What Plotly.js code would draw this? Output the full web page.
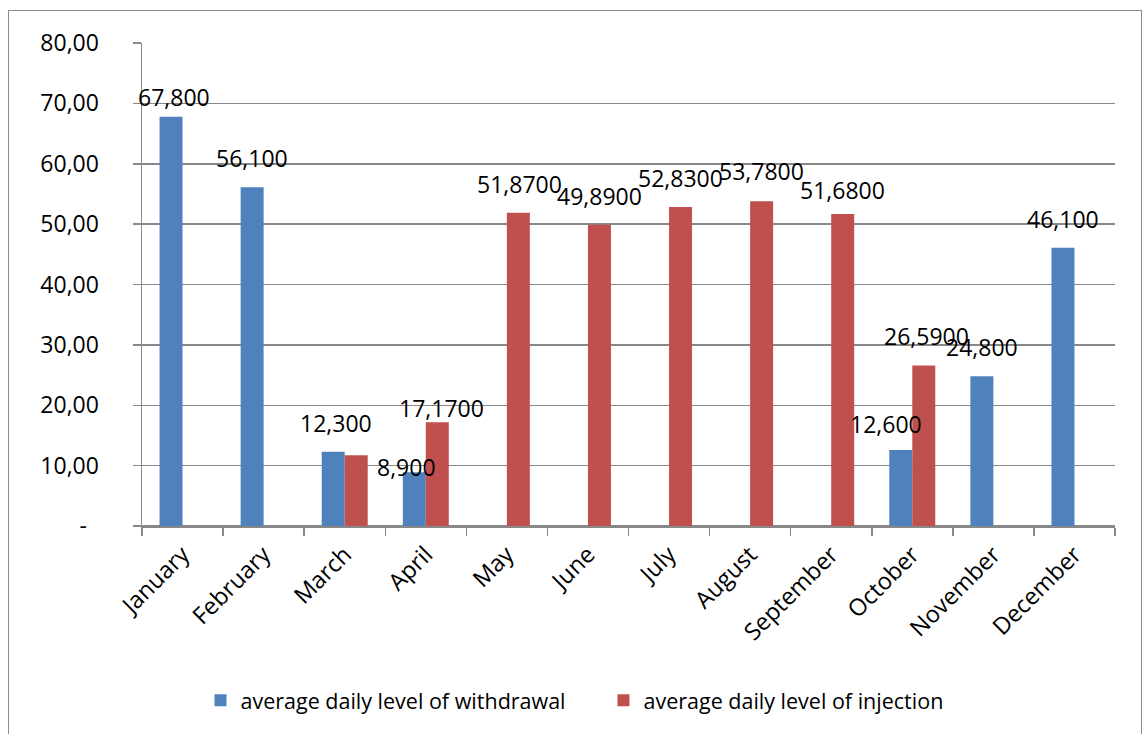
<!DOCTYPE html>
<html>
<head>
<meta charset="utf-8">
<script src="https://cdn.plot.ly/plotly-3.0.1.min.js"></script>
<style>
  html, body { margin: 0; padding: 0; background: #fff; overflow: hidden; }
  #wrap { position: relative; width: 1148px; height: 734px; }
  #frame { position: absolute; left: 8px; top: 10px; width: 1134px; height: 740px; border: 1.5px solid #8c8c8c; box-sizing: border-box; pointer-events: none; }
  #chart { position: absolute; left: 0; top: 0; width: 1148px; height: 734px; }
</style>
</head>
<body>
<div id="wrap">
  <div id="chart"></div>
  <div id="frame"></div>
</div>
<script>
const months = ["January", "February", "March", "April", "May", "June", "July", "August", "September", "October", "November", "December"];
const withdrawal = [67.8, 56.1, 12.3, 8.9, null, null, null, null, null, 12.6, 24.8, 46.1];
const injection = [null, null, 11.7, 17.17, 51.87, 49.89, 52.83, 53.78, 51.68, 26.59, null, null];
const withdrawalLabels = ["67,800", "56,100", "12,300", "8,900", "", "", "", "", "", "12,600", "24,800", "46,100"];
const injectionLabels = ["", "", "", "17,1700", "51,8700", "49,8900", "52,8300", "53,7800", "51,6800", "26,5900", "", ""];
const yTickVals = [0, 10, 20, 30, 40, 50, 60, 70, 80];
const yTickText = ["-\u00a0\u00a0", "10,00", "20,00", "30,00", "40,00", "50,00", "60,00", "70,00", "80,00"];

// label placement style (pixel nudges mimicking the original's label layout)
const withdrawalNudgeX = [3, 0, 3, -8, 0, 0, 0, 0, 0, -15, 0, 0];
const withdrawalNudgeY = [-9, 0, 0, -24, 0, 0, 0, 0, 0, -3, 0, 0];
const injectionNudgeX = [0, 0, 0, 4, 1, 0, 0, 0, 0, 3, 0, 0];
const injectionNudgeY = [0, 0, 0, -15, 0, 0, 0, 1, -5, 0, 0, 0];

const font = "Open Sans, Liberation Sans, sans-serif";
const halfBar = 11.5;
const baseShift = 11;

const traces = [
  {
    type: "bar", name: "average daily level of withdrawal",
    x: months, y: withdrawal,
    marker: { color: "#4F81BD" }, hoverinfo: "skip"
  },
  {
    type: "bar", name: "average daily level of injection",
    x: months, y: injection,
    marker: { color: "#C0504D" }, hoverinfo: "skip"
  }
];

const annotations = [];
months.forEach((m, i) => {
  if (withdrawal[i] !== null && withdrawalLabels[i]) {
    annotations.push({
      x: m, y: withdrawal[i], xref: "x", yref: "y", text: withdrawalLabels[i],
      showarrow: false, xanchor: "center", yanchor: "bottom",
      xshift: -halfBar + withdrawalNudgeX[i], yshift: baseShift + withdrawalNudgeY[i],
      font: { family: font, size: 23, color: "#000" }
    });
  }
  if (injection[i] !== null && injectionLabels[i]) {
    annotations.push({
      x: m, y: injection[i], xref: "x", yref: "y", text: injectionLabels[i],
      showarrow: false, xanchor: "center", yanchor: "bottom",
      xshift: halfBar + injectionNudgeX[i], yshift: baseShift + injectionNudgeY[i],
      font: { family: font, size: 23, color: "#000" }
    });
  }
});

const layout = {
  width: 1148, height: 734,
  margin: { l: 142, r: 33, t: 43, b: 207.5, pad: 0, autoexpand: false },
  paper_bgcolor: "#fff", plot_bgcolor: "#fff",
  font: { family: font, color: "#000" },
  barmode: "group", bargap: 0.433, bargroupgap: 0,
  showlegend: true,
  legend: {
    orientation: "h", x: 0.0601, xanchor: "left", y: -0.361, yanchor: "middle",
    font: { family: font, size: 21.5, color: "#000" },
    itemwidth: 30, traceorder: "normal", entrywidth: 358
  },
  annotations: annotations,
  xaxis: {
    type: "category", tickangle: -45, automargin: false,
    range: [-0.5, months.length - 0.5], autorange: false,
    tickfont: { family: font, size: 23.5, color: "#000" },
    ticklabelstandoff: 4,
    showline: true, linecolor: "#888", linewidth: 1.5,
    ticks: "outside", tickson: "boundaries", ticklen: 8, tickcolor: "#888", tickwidth: 1.5,
    showgrid: false, zeroline: false
  },
  yaxis: {
    range: [0, 80], autorange: false, tickvals: yTickVals, ticktext: yTickText, automargin: false,
    tickfont: { family: font, size: 23, color: "#000" },
    showline: true, linecolor: "#888", linewidth: 1.5,
    ticks: "outside", ticklen: 8, tickcolor: "#888", tickwidth: 1.5,
    ticklabelstandoff: 29,
    showgrid: true, gridcolor: "#888", gridwidth: 1.5,
    zeroline: true, zerolinecolor: "#888", zerolinewidth: 1.5
  }
};

Plotly.newPlot("chart", traces, layout, { staticPlot: true, displayModeBar: false });
</script>
</body>
</html>
